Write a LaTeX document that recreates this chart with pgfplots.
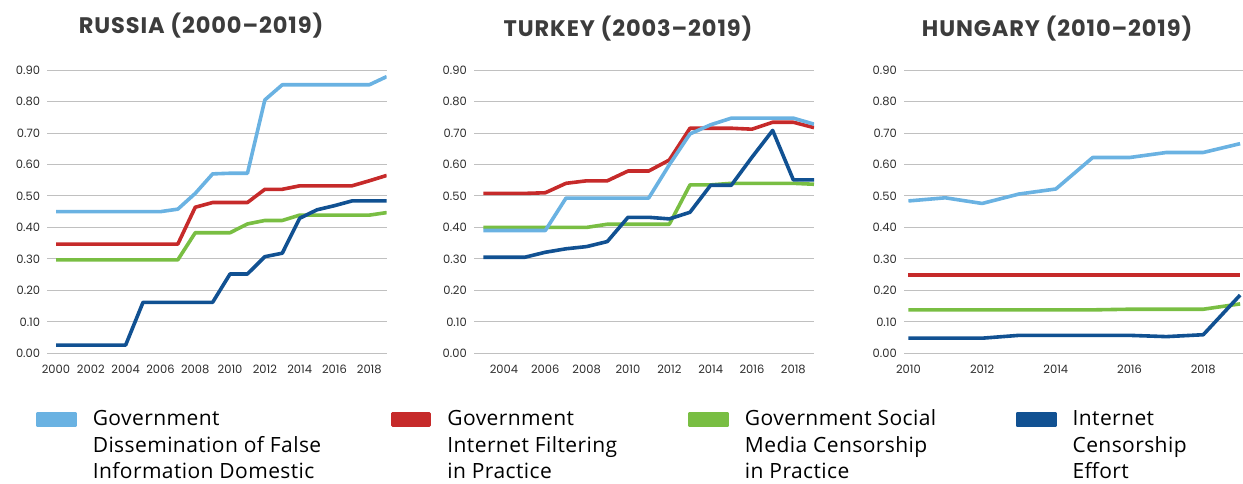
\documentclass[border=0pt]{standalone}
\usepackage{fontspec}
\setmainfont{Open Sans}
\newfontfamily\legfont{Open Sans}[LetterSpace=2]
\newfontfamily\pop{Poppins}
\newfontfamily\popt{Poppins}[LetterSpace=4]
\usepackage{pgfplots}
\pgfplotsset{compat=1.18}
\definecolor{lb}{RGB}{106,178,226}
\definecolor{rd}{RGB}{198,42,42}
\definecolor{gn}{RGB}{121,190,67}
\definecolor{db}{RGB}{17,81,146}
\definecolor{tk}{RGB}{45,45,45}
\definecolor{ttl}{RGB}{60,60,60}
\definecolor{gridc}{RGB}{192,192,192}
\newcommand{\legtext}[2]{\parbox[t]{#1}{\legfont\fontsize{21}{26.5}\selectfont #2}}
\pgfplotsset{
 panel/.style={
  scale only axis, height=283.3pt, ymin=0, ymax=0.9,
  ytick={0,0.1,0.2,0.3,0.4,0.5,0.6,0.7,0.8,0.9},
  ymajorgrids, major grid style={draw=gridc, line width=0.9pt},
  axis line style={draw=none}, major tick length=0pt, tick style={draw=none},
  /pgf/number format/assume math mode=true,
  tick label style={font=\pop\fontsize{11.5}{12}\selectfont, text=tk, inner sep=0pt},
  yticklabel style={/pgf/number format/fixed, /pgf/number format/fixed zerofill, /pgf/number format/precision=2, xshift=-7pt},
  xticklabel style={/pgf/number format/1000 sep={}, yshift=-11.5pt},
  title style={font=\popt\bfseries\fontsize{22.5}{24}\selectfont, text=ttl, anchor=center},
  every axis plot/.append style={line width=3.6pt, line join=round, no marks},
 }
}
\begin{document}
\begin{tikzpicture}
\path[use as bounding box] (0,0) rectangle (1243pt,483pt);
% RUSSIA
\begin{axis}[panel, width=339.4pt, at={(47.3pt,129.7pt)}, anchor=south west,
  xmin=1999.5, xmax=2019, xtick={2000,2002,...,2018},
  title={RUSSIA (2000–2019)}, title style={at={(axis description cs:0.453,1.134)}},
  legend columns=4,
  legend image code/.code={\fill (0pt,0pt) rectangle (37pt,12pt);},
  legend style={draw=none, fill=none, inner sep=0pt, at={(axis description cs:-0.0333,-0.198)}, anchor=north west,
    cells={anchor=base west}, nodes={inner sep=0pt},
    /tikz/every odd column/.append style={column sep=16pt},
    /tikz/every even column/.append style={column sep=0pt}},
  ]
\addplot[color=lb] coordinates {(2000,0.450)(2001,0.450)(2002,0.450)(2003,0.450)(2004,0.450)(2005,0.450)(2006,0.450)(2007,0.458)(2008,0.508)(2009,0.570)(2010,0.572)(2011,0.572)(2012,0.805)(2013,0.853)(2014,0.853)(2015,0.853)(2016,0.853)(2017,0.853)(2018,0.853)(2019,0.879)};
\addlegendentry{\legtext{298pt}{Government\\Dissemination of False\\Information Domestic}}
\addplot[color=rd] coordinates {(2000,0.347)(2001,0.347)(2002,0.347)(2003,0.347)(2004,0.347)(2005,0.347)(2006,0.347)(2007,0.347)(2008,0.464)(2009,0.479)(2010,0.479)(2011,0.479)(2012,0.521)(2013,0.521)(2014,0.532)(2015,0.532)(2016,0.532)(2017,0.532)(2018,0.548)(2019,0.565)};
\addlegendentry{\legtext{241pt}{Government\\Internet Filtering\\in Practice}}
\addplot[color=gn] coordinates {(2000,0.297)(2001,0.297)(2002,0.297)(2003,0.297)(2004,0.297)(2005,0.297)(2006,0.297)(2007,0.297)(2008,0.383)(2009,0.383)(2010,0.383)(2011,0.411)(2012,0.422)(2013,0.422)(2014,0.439)(2015,0.439)(2016,0.439)(2017,0.439)(2018,0.439)(2019,0.447)};
\addlegendentry{\legtext{271pt}{Government Social\\Media Censorship\\in Practice}}
\addplot[color=db] coordinates {(2000,0.026)(2001,0.026)(2002,0.026)(2003,0.026)(2004,0.026)(2005,0.162)(2006,0.162)(2007,0.162)(2008,0.162)(2009,0.162)(2010,0.252)(2011,0.252)(2012,0.307)(2013,0.318)(2014,0.429)(2015,0.456)(2016,0.469)(2017,0.484)(2018,0.484)(2019,0.484)};
\addlegendentry{\legtext{160pt}{Internet\\Censorship\\Effort}}
\end{axis}
% TURKEY
\begin{axis}[panel, width=340pt, at={(474pt,129.7pt)}, anchor=south west,
  xmin=2002.55, xmax=2019, xtick={2004,2006,...,2018},
  title={TURKEY (2003–2019)}, title style={at={(axis description cs:0.453,1.124)}}]
\addplot[color=rd] coordinates {(2003,0.508)(2004,0.508)(2005,0.508)(2006,0.510)(2007,0.540)(2008,0.548)(2009,0.548)(2010,0.579)(2011,0.579)(2012,0.614)(2013,0.715)(2014,0.715)(2015,0.715)(2016,0.712)(2017,0.734)(2018,0.734)(2019,0.717)};
\addplot[color=gn] coordinates {(2003,0.400)(2004,0.400)(2005,0.400)(2006,0.400)(2007,0.400)(2008,0.400)(2009,0.410)(2010,0.410)(2011,0.410)(2012,0.410)(2013,0.535)(2014,0.535)(2015,0.540)(2016,0.540)(2017,0.540)(2018,0.540)(2019,0.537)};
\addplot[color=lb] coordinates {(2003,0.390)(2004,0.390)(2005,0.390)(2006,0.390)(2007,0.493)(2008,0.493)(2009,0.493)(2010,0.493)(2011,0.493)(2012,0.599)(2013,0.697)(2014,0.726)(2015,0.747)(2016,0.747)(2017,0.747)(2018,0.747)(2019,0.728)};
\addplot[color=db] coordinates {(2003,0.305)(2004,0.305)(2005,0.305)(2006,0.321)(2007,0.332)(2008,0.339)(2009,0.355)(2010,0.432)(2011,0.432)(2012,0.427)(2013,0.448)(2014,0.534)(2015,0.534)(2016,0.623)(2017,0.708)(2018,0.551)(2019,0.551)};
\end{axis}
% HUNGARY
\begin{axis}[panel, width=338.7pt, at={(904pt,129.7pt)}, anchor=south west,
  xmin=2009.88, xmax=2019.07, xtick={2010,2012,...,2018},
  title={HUNGARY (2010–2019)}, title style={at={(axis description cs:0.452,1.124)}}]
\addplot[color=lb] coordinates {(2010,0.484)(2011,0.494)(2012,0.476)(2013,0.506)(2014,0.522)(2015,0.622)(2016,0.622)(2017,0.638)(2018,0.638)(2019,0.666)};
\addplot[color=rd] coordinates {(2010,0.249)(2011,0.249)(2012,0.249)(2013,0.249)(2014,0.249)(2015,0.249)(2016,0.249)(2017,0.249)(2018,0.249)(2019,0.249)};
\addplot[color=gn] coordinates {(2010,0.138)(2011,0.138)(2012,0.138)(2013,0.138)(2014,0.138)(2015,0.138)(2016,0.140)(2017,0.140)(2018,0.140)(2019,0.157)};
\addplot[color=db] coordinates {(2010,0.048)(2011,0.048)(2012,0.048)(2013,0.057)(2014,0.057)(2015,0.057)(2016,0.057)(2017,0.053)(2018,0.059)(2019,0.185)};
\end{axis}
\end{tikzpicture}
\end{document}
